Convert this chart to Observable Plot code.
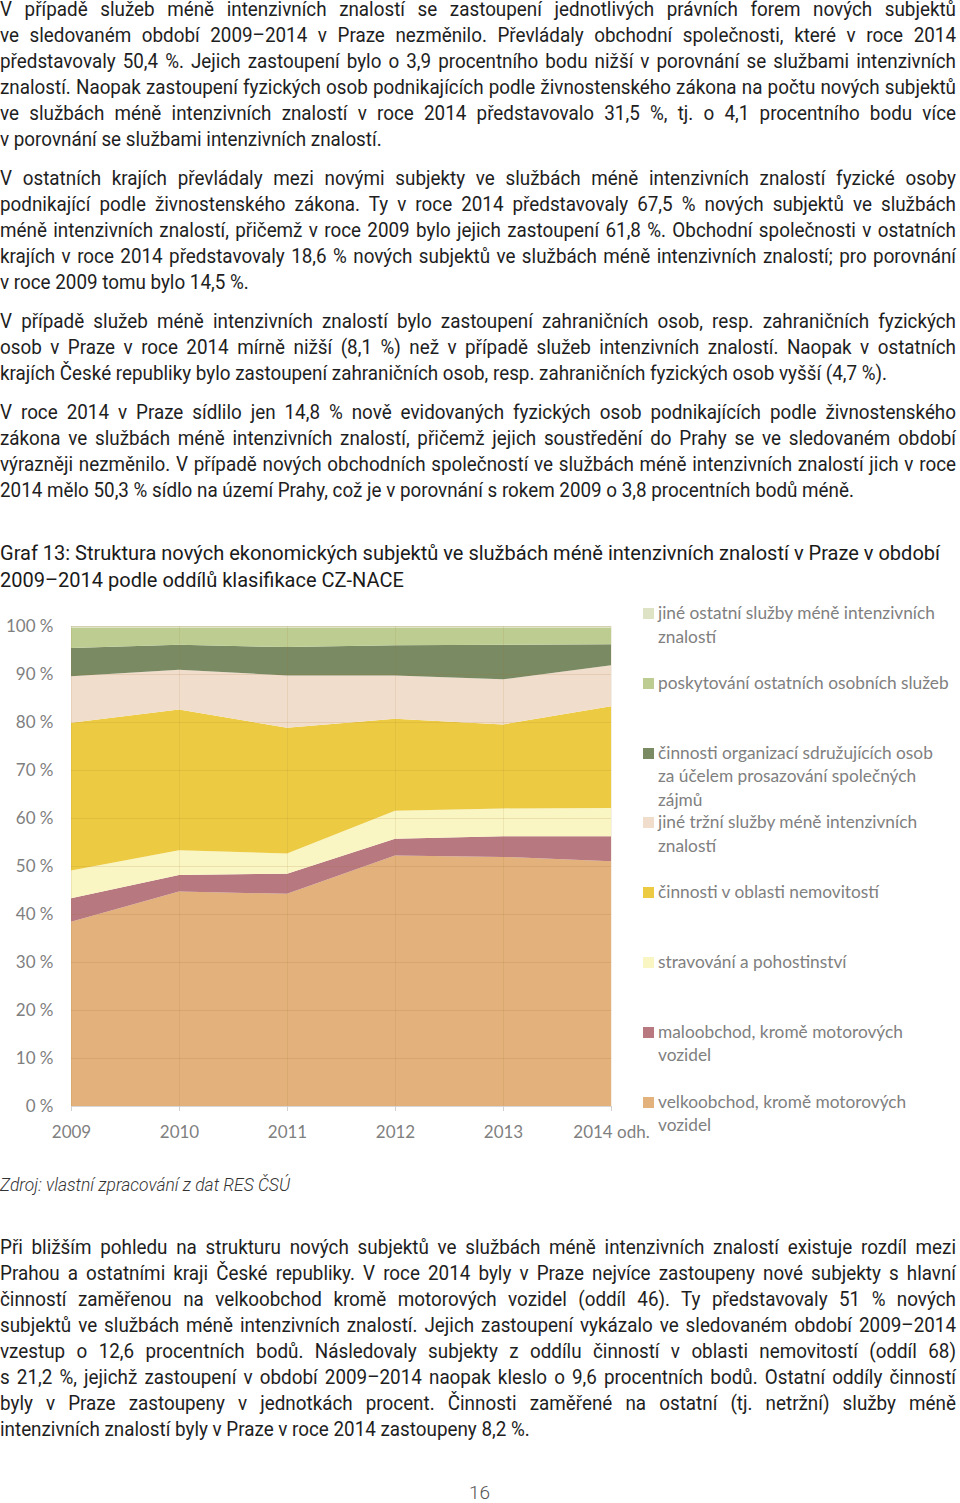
<!DOCTYPE html>
<html><head><meta charset="utf-8">
<script src="https://cdn.jsdelivr.net/npm/d3@7"></script>
<script src="https://cdn.jsdelivr.net/npm/@observablehq/plot@0.6"></script>
<style>
body{margin:0;width:960px;height:1503px;position:relative;background:#fff;overflow:hidden}
.txt{font-family:Roboto,"Noto Sans",sans-serif;font-size:20px;line-height:26px;color:#1e1e1e}
.p{position:absolute;left:0;transform-origin:0 0}
.p div{text-align:justify;text-align-last:justify;height:26px;white-space:nowrap}
.p div.last{text-align-last:left}
#title{position:absolute;left:0;top:540px;line-height:27px;font-size:21px;color:#1a1a1a;transform-origin:0 0;white-space:nowrap}
#src{position:absolute;left:0;top:1172px;font-style:italic;font-weight:300;font-size:19px;color:#333;transform-origin:0 0;white-space:nowrap}
#pg{position:absolute;left:469px;top:1480px;font-size:19px;color:#555;font-weight:300}
#chart{position:absolute;left:0;top:600px}
.leg{position:absolute;left:643px;font-family:Lato,sans-serif;font-size:17.3px;line-height:23.5px;color:#808080;white-space:pre-line}
.leg .sw{position:absolute;left:0;top:7px;width:11px;height:11px}
.leg .tx{position:absolute;left:15px;top:0;width:320px}
#meas{position:absolute;visibility:hidden;white-space:nowrap;left:0;top:0}
</style></head>
<body>
<div id="root"></div>
<span id="meas" class="txt"></span>
<script>
// ---- data ----
const years = [2009, 2010, 2011, 2012, 2013, 2014];
const yearLabels = ["2009", "2010", "2011", "2012", "2013", "2014 odh."];
const yTickLabels = [0, 10, 20, 30, 40, 50, 60, 70, 80, 90, 100];

// series, bottom to top of the stack
const seriesNames = [
  "velkoobchod, kromě motorových vozidel",
  "maloobchod, kromě motorových vozidel",
  "stravování a pohostinství",
  "činnosti v oblasti nemovitostí",
  "jiné tržní služby méně intenzivních znalostí",
  "činnosti organizací sdružujících osob za účelem prosazování společných zájmů",
  "poskytování ostatních osobních služeb",
  "jiné ostatní služby méně intenzivních znalostí"
];
const legendLabels = [
  "velkoobchod, kromě motorových\nvozidel",
  "maloobchod, kromě motorových\nvozidel",
  "stravování a pohostinství",
  "činnosti v oblasti nemovitostí",
  "jiné tržní služby méně intenzivních\nznalostí",
  "činnosti organizací sdružujících osob\nza účelem prosazování společných\nzájmů",
  "poskytování ostatních osobních služeb",
  "jiné ostatní služby méně intenzivních\nznalostí"
];
const velkoobchod = [38.4, 44.7, 44.2, 52.2, 51.9, 51.0];
const maloobchod  = [4.9, 3.4, 4.2, 3.5, 4.3, 5.2];
const stravovani  = [5.8, 5.2, 4.2, 5.8, 5.8, 5.9];
const nemovitosti = [30.8, 29.3, 26.2, 19.2, 17.5, 21.2];
const jineTrzni   = [9.7, 8.3, 10.9, 9.0, 9.4, 8.5];
const organizace  = [5.9, 5.2, 5.9, 6.3, 7.2, 4.4];
const osobni      = [4.3, 3.6, 4.1, 3.7, 3.6, 3.5];
const jineOstatni = [0.3, 0.3, 0.3, 0.3, 0.3, 0.3];
const seriesValues = [velkoobchod, maloobchod, stravovani, nemovitosti, jineTrzni, organizace, osobni, jineOstatni];
const colors = ["#E2B17C", "#B7787F", "#FAF6C3", "#ECCB42", "#F1DDCB", "#7A8A62", "#BDCC90", "#DEE3C6"];

const paragraphs = [
  {top: -4, lines: [
    "V případě služeb méně intenzivních znalostí se zastoupení jednotlivých právních forem nových subjektů",
    "ve sledovaném období 2009–2014 v\u00a0Praze nezměnilo. Převládaly obchodní společnosti, které v\u00a0roce 2014",
    "představovaly 50,4 %. Jejich zastoupení bylo o 3,9 procentního bodu nižší v\u00a0porovnání se službami intenzivních",
    "znalostí. Naopak zastoupení fyzických osob podnikajících podle živnostenského zákona na počtu nových subjektů",
    "ve službách méně intenzivních znalostí v\u00a0roce 2014 představovalo 31,5 %, tj. o 4,1 procentního bodu více",
    "v\u00a0porovnání se službami intenzivních znalostí."]},
  {top: 165, lines: [
    "V\u00a0ostatních krajích převládaly mezi novými subjekty ve službách méně intenzivních znalostí fyzické osoby",
    "podnikající podle živnostenského zákona. Ty v\u00a0roce 2014 představovaly 67,5 % nových subjektů ve\u00a0službách",
    "méně intenzivních znalostí, přičemž v\u00a0roce 2009 bylo jejich zastoupení 61,8 %. Obchodní společnosti v\u00a0ostatních",
    "krajích v\u00a0roce 2014 představovaly 18,6 % nových subjektů ve službách méně intenzivních znalostí; pro porovnání",
    "v\u00a0roce 2009 tomu bylo 14,5 %."]},
  {top: 308, lines: [
    "V případě služeb méně intenzivních znalostí bylo zastoupení zahraničních osob, resp. zahraničních fyzických",
    "osob v\u00a0Praze v\u00a0roce 2014 mírně nižší (8,1 %) než v\u00a0případě služeb intenzivních znalostí. Naopak v\u00a0ostatních",
    "krajích České republiky bylo zastoupení zahraničních osob, resp. zahraničních fyzických osob vyšší (4,7 %)."]},
  {top: 399, lines: [
    "V roce 2014 v\u00a0Praze sídlilo jen 14,8 % nově evidovaných fyzických osob podnikajících podle živnostenského",
    "zákona ve službách méně intenzivních znalostí, přičemž jejich soustředění do Prahy se ve\u00a0sledovaném období",
    "výrazněji nezměnilo. V\u00a0případě nových obchodních společností ve službách méně intenzivních znalostí jich v\u00a0roce",
    "2014 mělo 50,3 % sídlo na území Prahy, což je v\u00a0porovnání s\u00a0rokem 2009 o 3,8 procentních bodů méně."]},
  {top: 1234, lines: [
    "Při bližším pohledu na strukturu nových subjektů ve službách méně intenzivních znalostí existuje rozdíl mezi",
    "Prahou a ostatními kraji České republiky. V\u00a0roce 2014 byly v\u00a0Praze nejvíce zastoupeny nové subjekty s\u00a0hlavní",
    "činností zaměřenou na velkoobchod kromě motorových vozidel (oddíl 46). Ty představovaly 51 % nových",
    "subjektů ve službách méně intenzivních znalostí. Jejich zastoupení vykázalo ve sledovaném období 2009–2014",
    "vzestup o 12,6 procentních bodů. Následovaly subjekty z\u00a0oddílu činností v\u00a0oblasti nemovitostí (oddíl 68)",
    "s\u00a021,2 %, jejichž zastoupení v\u00a0období 2009–2014 naopak kleslo o 9,6 procentních bodů. Ostatní oddíly činností",
    "byly v\u00a0Praze zastoupeny v\u00a0jednotkách procent. Činnosti zaměřené na ostatní (tj. netržní) služby méně",
    "intenzivních znalostí byly v\u00a0Praze v\u00a0roce 2014 zastoupeny 8,2 %."]}
];
const titleLines = [
  "Graf 13: Struktura nových ekonomických subjektů ve službách méně intenzivních znalostí v\u00a0Praze v\u00a0období",
  "2009–2014 podle oddílů klasifikace CZ-NACE"];
const sourceText = "Zdroj: vlastní zpracování z dat RES ČSÚ";
const pageNumber = "16";

// ---- page text ----
const root = document.getElementById("root");
const meas = document.getElementById("meas");
function measure(t, style) {
  meas.style.cssText = style || "";
  meas.textContent = t;
  return meas.getBoundingClientRect().width;
}
// emulate the condensed face of the original: horizontal scale calibrated on an unjustified line
const calW = measure(paragraphs[2].lines[2]);
let maxW = 0;
paragraphs.forEach(p => p.lines.forEach(t => { maxW = Math.max(maxW, measure(t)); }));
const sx = Math.min(903 / calW, 950 / maxW);
const PAGE_W = 956;

for (const p of paragraphs) {
  const el = document.createElement("div");
  el.className = "p txt"; el.style.top = p.top + "px";
  el.style.width = (PAGE_W / sx) + "px";
  el.style.transform = `scaleX(${sx})`;
  p.lines.forEach((t, i) => {
    const d = document.createElement("div");
    d.textContent = t;
    if (i === p.lines.length - 1) d.className = "last";
    el.appendChild(d);
  });
  root.appendChild(el);
}
const title = document.createElement("div");
title.id = "title"; title.className = "txt";
title.innerHTML = titleLines.join("<br>");
root.appendChild(title);
const tW = measure(titleLines[0], "font-size:21px");
title.style.transform = `scaleX(${940 / tW})`;

const src = document.createElement("div");
src.id = "src"; src.className = "txt"; src.textContent = sourceText; root.appendChild(src);
const sW = measure(sourceText, "font-size:19px;font-style:italic;font-weight:300");
src.style.transform = `scaleX(${290 / sW})`;

const pg = document.createElement("div");
pg.id = "pg"; pg.className = "txt"; pg.textContent = pageNumber; root.appendChild(pg);

// ---- chart ----
const table = [];
seriesNames.forEach((s, si) => years.forEach((y, yi) => table.push({series: s, year: y, value: seriesValues[si][yi]})));

const chart = Plot.plot({
  width: 640, height: 550,
  marginLeft: 71, marginRight: 29, marginTop: 26, marginBottom: 44,
  style: {fontFamily: "Lato, sans-serif", fontSize: "17px", color: "#7f7f7f", background: "transparent", overflow: "visible"},
  x: {domain: [2009, 2014], axis: null},
  y: {domain: [0, 1], axis: null},
  color: {domain: seriesNames, range: colors},
  marks: [
    Plot.areaY(table, {x: "year", y: "value", z: "series", fill: "series", offset: "normalize", order: seriesNames}),
    Plot.gridY(yTickLabels.map(v => v / 100), {stroke: "#a07030", strokeOpacity: 0.16}),
    Plot.gridX(years, {stroke: "#a07030", strokeOpacity: 0.12}),
    Plot.ruleY([0], {stroke: "#d6d6d6"}),
    Plot.axisY(yTickLabels.map(v => v / 100), {tickFormat: d => Math.round(d * 100) + " %", tickSize: 0, tickPadding: 18, fill: "#7f7f7f", label: null}),
    Plot.axisX(years, {tickFormat: d => yearLabels[years.indexOf(d)], tickSize: 5, tickPadding: 14, stroke: "#d0d0d0", fill: "#7f7f7f", label: null})
  ]
});
chart.id = "chart";
root.appendChild(chart);

// ---- legend (top to bottom = reverse stack order) ----
for (let k = 0; k < seriesNames.length; k++) {
  const i = seriesNames.length - 1 - k;
  const el = document.createElement("div");
  el.className = "leg";
  el.style.top = (601 + k * 69.8) + "px";
  const sw = document.createElement("div");
  sw.className = "sw"; sw.style.background = colors[i];
  const tx = document.createElement("div");
  tx.className = "tx"; tx.textContent = legendLabels[i];
  el.appendChild(sw); el.appendChild(tx);
  root.appendChild(el);
}
</script>
</body></html>
